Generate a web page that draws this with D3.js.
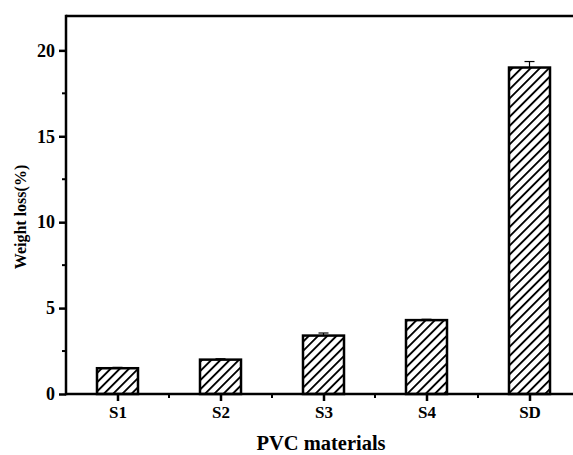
<!DOCTYPE html>
<html>
<head>
<meta charset="utf-8">
<script src="https://d3js.org/d3.v7.min.js"></script>
<style>
  body { margin: 0; background: #fff; }
  text { font-family: "Liberation Serif", "Times New Roman", serif; font-weight: bold; }
</style>
</head>
<body>
<div id="chart"></div>
<script>
// data
const materials = ["S1", "S2", "S3", "S4", "SD"];
const weightLoss = [1.5, 2.0, 3.4, 4.3, 19.0];
const errors = [0.05, 0.05, 0.15, 0.05, 0.35];
const yTicks = [0, 5, 10, 15, 20];

const width = 573, height = 455;
const mLeft = 66, mTop = 16, mBottom = 394;

const svg = d3.select("#chart").append("svg")
  .attr("width", width)
  .attr("height", height);

// hatch pattern for the bars
const defs = svg.append("defs");
const pat = defs.append("pattern")
  .attr("id", "hatch")
  .attr("patternUnits", "userSpaceOnUse")
  .attr("width", 6.5)
  .attr("height", 6.5)
  .attr("patternTransform", "rotate(45)");
pat.append("rect").attr("width", 6.5).attr("height", 6.5).attr("fill", "white");
pat.append("line")
  .attr("x1", 0).attr("y1", 0).attr("x2", 0).attr("y2", 6.5)
  .attr("stroke", "black").attr("stroke-width", 3.8);

// x: category index, 1..5, axis from 0.5 (runs off the right edge)
const x = d3.scaleLinear().domain([0.5, 5.5]).range([mLeft, mLeft + 5 * 103]);
const y = d3.scaleLinear().domain([0, 22]).range([mBottom, mTop]);
const barW = 41;

// bars
materials.forEach((m, i) => {
  svg.append("rect")
    .attr("x", x(i + 1) - barW / 2)
    .attr("y", y(weightLoss[i]))
    .attr("width", barW)
    .attr("height", y(0) - y(weightLoss[i]))
    .style("fill", "url(#hatch)")
    .style("stroke", "black")
    .style("stroke-width", 2.5);
});

// error bars (upper half only, drawn above the bar)
materials.forEach((m, i) => {
  const cx = x(i + 1);
  const yt = y(weightLoss[i] + errors[i]);
  svg.append("line")
    .attr("x1", cx).attr("x2", cx)
    .attr("y1", y(weightLoss[i])).attr("y2", yt)
    .style("stroke", "black").style("stroke-width", 1.2);
  svg.append("line")
    .attr("x1", cx - 5).attr("x2", cx + 5)
    .attr("y1", yt).attr("y2", yt)
    .style("stroke", "black").style("stroke-width", 1.2);
});

// y axis
const yAxis = d3.axisLeft(y).tickValues(yTicks).tickSize(7).tickPadding(4).tickFormat(d3.format("d"));
const gy = svg.append("g").attr("transform", `translate(${mLeft},0)`).call(yAxis);
gy.select(".domain").remove();
gy.selectAll(".tick line").style("stroke-width", 2.5);
gy.selectAll(".tick text").style("font-size", "18px").style("fill", "black");
// minor ticks
[2.5, 7.5, 12.5, 17.5].forEach(v => {
  svg.append("line")
    .attr("x1", mLeft - 4).attr("x2", mLeft)
    .attr("y1", y(v)).attr("y2", y(v))
    .style("stroke", "black").style("stroke-width", 2);
});

// x axis
const xAxis = d3.axisBottom(x).tickValues([1, 2, 3, 4, 5]).tickSize(7).tickPadding(5)
  .tickFormat(d => materials[d - 1]);
const gx = svg.append("g").attr("transform", `translate(0,${mBottom})`).call(xAxis);
gx.select(".domain").remove();
gx.selectAll(".tick line").style("stroke-width", 2.5);
gx.selectAll(".tick text").style("font-size", "17px").style("fill", "black");
[1.5, 2.5, 3.5, 4.5].forEach(v => {
  svg.append("line")
    .attr("x1", x(v)).attr("x2", x(v))
    .attr("y1", mBottom).attr("y2", mBottom + 4)
    .style("stroke", "black").style("stroke-width", 2);
});

// frame lines: left, bottom, top
svg.append("line")
  .attr("x1", mLeft).attr("x2", mLeft).attr("y1", mTop - 1.25).attr("y2", mBottom + 1.25)
  .style("stroke", "black").style("stroke-width", 2.5);
svg.append("line")
  .attr("x1", mLeft).attr("x2", width).attr("y1", mBottom).attr("y2", mBottom)
  .style("stroke", "black").style("stroke-width", 2.5);
svg.append("line")
  .attr("x1", mLeft).attr("x2", width).attr("y1", mTop).attr("y2", mTop)
  .style("stroke", "black").style("stroke-width", 2.5);

// axis titles
svg.append("text")
  .attr("transform", `translate(26,217) rotate(-90)`)
  .attr("text-anchor", "middle")
  .style("font-size", "16px")
  .text("Weight loss(%)");
svg.append("text")
  .attr("x", 321).attr("y", 450)
  .attr("text-anchor", "middle")
  .style("font-size", "20.5px")
  .text("PVC materials");
</script>
</body>
</html>
